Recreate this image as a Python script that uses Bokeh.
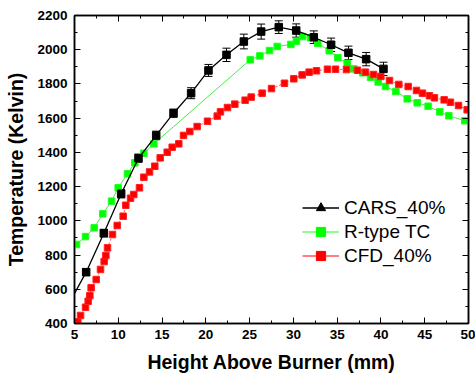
from bokeh.plotting import figure
from bokeh.models import (Range1d, LinearAxis, Whisker, ColumnDataSource, TeeHead,
                          Legend, LegendItem, SingleIntervalTicker, CustomJSTickFormatter)
from bokeh.embed import file_html
from bokeh.resources import INLINE

# CARS_40% (black, with error bars)
cars_x = [4.3, 6.33, 8.35, 10.33, 12.31, 14.33, 16.31, 18.32, 20.3, 22.36, 24.34, 26.32,
          28.33, 30.32, 32.33, 34.31, 36.29, 38.31, 40.29]
cars_y = [510, 700, 928, 1158, 1366, 1499, 1629, 1746, 1879, 1970, 2048, 2106,
          2132, 2112, 2073, 2029, 1982, 1945, 1888]
cars_err = [20, 20, 22, 24, 24, 25, 24, 32, 35, 39, 43, 44, 37, 39, 37, 39, 39, 39, 39]

# R-type TC (green)
tc_x = [5.23, 6.26, 7.25, 8.23, 9.23, 9.99, 11.05, 11.89, 12.92, 14.06, 25.07, 26.17, 27.27,
        28.15, 29.71, 30.35, 31.04, 31.95, 32.79, 34.09, 35.07, 36.14, 36.9, 37.93, 38.81,
        39.68, 40.52, 41.7, 43.0, 44.14, 45.39, 46.72, 47.75, 49.57]
tc_y = [862, 908, 959, 1041, 1115, 1193, 1275, 1339, 1395, 1450, 1941, 1964, 1995,
        2019, 2031, 2050, 2077, 2070, 2038, 1994, 1953, 1921, 1888, 1865, 1839,
        1812, 1785, 1756, 1713, 1690, 1670, 1637, 1614, 1585]

# CFD_40% (red)
cfd_x = [5.38, 5.69, 6.26, 6.56, 6.75, 6.9, 7.48, 7.97, 8.39, 8.58, 8.77, 9.34, 9.88, 10.56,
         10.86, 11.4, 11.77, 12.42, 12.92, 13.57, 14.17, 14.79, 15.59, 16.16, 16.91, 17.45,
         18.17, 19.01, 20.19, 21.3, 21.67, 22.47, 23.31, 24.49, 25.18, 26.43, 27.5, 28.98,
         30.05, 31.0, 31.8, 32.64, 33.89, 34.81, 36.06, 37.32, 38.23, 39.15, 39.98, 40.98,
         42.04, 43.11, 44.06, 44.74, 45.54, 46.11, 47.22, 47.94, 48.86, 49.85]
cfd_y = [410, 447, 495, 530, 563, 609, 657, 716, 762, 797, 842, 920, 973, 1027,
         1091, 1132, 1154, 1193, 1255, 1286, 1319, 1368, 1401, 1430, 1450, 1499,
         1522, 1551, 1582, 1612, 1637, 1662, 1682, 1705, 1723, 1746, 1773, 1804,
         1830, 1853, 1869, 1877, 1886, 1886, 1884, 1880, 1869, 1855, 1844, 1820,
         1797, 1785, 1762, 1746, 1731, 1719, 1707, 1693, 1674, 1649]

labels = ["CARS_40%", "R-type TC", "CFD_40%"]
x_label = "Height Above Burner (mm)"
y_label = "Temperature (Kelvin)"

FONT = "Liberation Sans"

p = figure(width=475, height=378, output_backend="svg", toolbar_location=None,
           x_range=Range1d(5, 50), y_range=Range1d(400, 2200),
           min_border_left=74, min_border_right=7, min_border_top=15, min_border_bottom=55,
           background_fill_color="white", border_fill_color="white")
p.grid.visible = False
p.outline_line_color = "black"
p.outline_line_width = 1.5

def style_axis(ax, labels_on=True):
    ax.axis_line_color = "black"
    ax.axis_line_width = 1.5
    ax.major_tick_in = 6
    ax.major_tick_out = 0
    ax.minor_tick_in = 3
    ax.minor_tick_out = 0
    ax.major_tick_line_color = "black"
    ax.minor_tick_line_color = "black"
    ax.major_label_text_font = FONT
    ax.major_label_text_font_style = "bold"
    ax.major_label_text_font_size = "13.5px"
    ax.major_label_text_color = "black"
    ax.axis_label_text_font = FONT
    ax.axis_label_text_font_style = "bold"
    ax.axis_label_text_color = "black"
    if not labels_on:
        ax.formatter = CustomJSTickFormatter(code="return ''")
        ax.major_label_standoff = 0

xt = SingleIntervalTicker(interval=5, num_minor_ticks=2)
yt = SingleIntervalTicker(interval=200, num_minor_ticks=2)

p.xaxis.ticker = xt
p.yaxis.ticker = yt
style_axis(p.xaxis[0])
style_axis(p.yaxis[0])
p.xaxis.axis_label = x_label
p.yaxis.axis_label = y_label
p.xaxis.axis_label_text_font_size = "19.5px"
p.yaxis.axis_label_text_font_size = "19.5px"
p.xaxis.major_label_standoff = 6
p.yaxis.major_label_standoff = 7
p.xaxis.axis_label_standoff = 9
p.yaxis.axis_label_standoff = 7

top = LinearAxis(ticker=SingleIntervalTicker(interval=5, num_minor_ticks=2))
right = LinearAxis(ticker=SingleIntervalTicker(interval=200, num_minor_ticks=2))
style_axis(top, labels_on=False)
style_axis(right, labels_on=False)
p.add_layout(top, "above")
p.add_layout(right, "right")

# green
p.line(tc_x, tc_y, line_color="#44ee44", line_width=1)
p.scatter(tc_x, tc_y, marker="square", size=6.5, fill_color="#00ff00", line_color="#22ff22")
# red
p.line(cfd_x, cfd_y, line_color="#ff5555", line_width=1, line_dash="2 2")
p.scatter(cfd_x, cfd_y, marker="square", size=6.5, fill_color="#ff0000", line_color="#ff2222")
# black
src = ColumnDataSource(dict(x=cars_x, y=cars_y,
                            upper=[a + b for a, b in zip(cars_y, cars_err)],
                            lower=[a - b for a, b in zip(cars_y, cars_err)]))
p.line("x", "y", source=src, line_color="black", line_width=1.3)
wh = Whisker(base="x", upper="upper", lower="lower", source=src, line_color="black",
             line_width=1,
             upper_head=TeeHead(size=8, line_color="black", line_width=1),
             lower_head=TeeHead(size=8, line_color="black", line_width=1))
p.add_layout(wh)
p.scatter("x", "y", source=src, marker="square", size=7.5, fill_color="black", line_color="black")

# legend proxies (placed outside visible range)
ox, oy = [-100, -99], [-100, -100]
l1 = p.line(ox, oy, line_color="black", line_width=1.3)
m1 = p.scatter(ox[:1], oy[:1], marker="triangle", size=8, fill_color="black", line_color="black")
l2 = p.line(ox, oy, line_color="#88ff88", line_width=2)
m2 = p.scatter(ox[:1], oy[:1], marker="square", size=7, fill_color="#00ff00", line_color="#00ff00")
l3 = p.line(ox, oy, line_color="#ff8080", line_width=2)
m3 = p.scatter(ox[:1], oy[:1], marker="square", size=7, fill_color="#ff0000", line_color="#ff0000")

legend = Legend(items=[LegendItem(label=labels[0], renderers=[l1, m1]),
                       LegendItem(label=labels[1], renderers=[l2, m2]),
                       LegendItem(label=labels[2], renderers=[l3, m3])],
                location=(228, 56), padding=0, margin=0, spacing=1,
                glyph_width=37, glyph_height=23, label_height=23, label_standoff=5,
                label_text_font=FONT, label_text_font_size="19px", label_text_color="black",
                border_line_color=None, background_fill_alpha=0)
p.add_layout(legend)

open("out.html", "w").write(file_html(p, INLINE))
